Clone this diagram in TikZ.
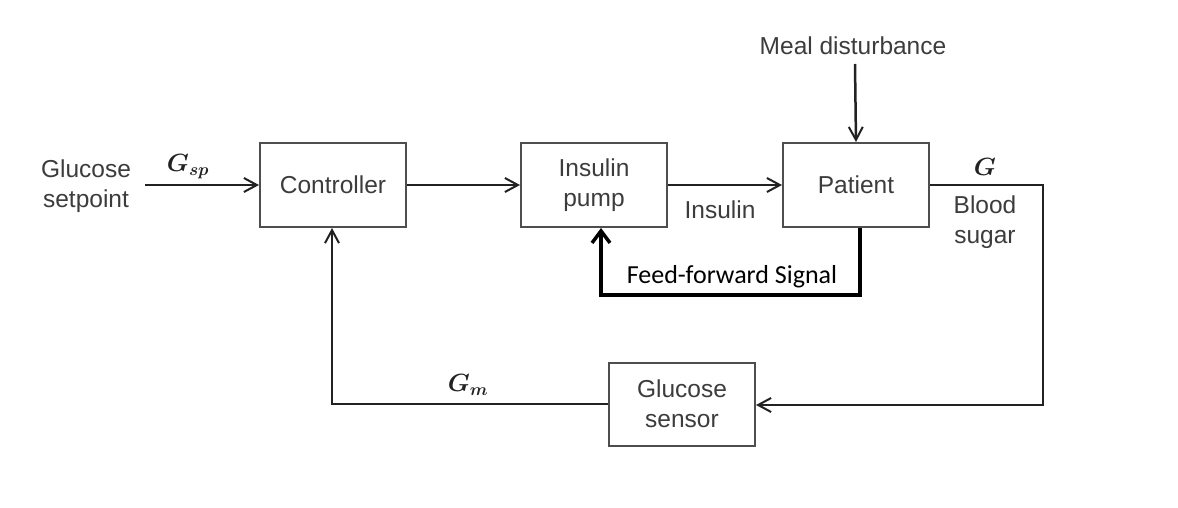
\documentclass[tikz,border=0pt]{standalone}
\usepackage{fontspec}
\setmainfont{Liberation Sans}
\newfontfamily\calfont{Carlito}
\usetikzlibrary{arrows.meta}
\definecolor{txt}{HTML}{3C3C3C}
\definecolor{ln}{HTML}{222222}
\begin{document}
\begin{tikzpicture}[x=1pt,y=-1pt,
  blk/.style={draw=ln!80, line width=2pt, minimum width=146pt, minimum height=84pt, inner sep=0pt, align=center, font=\fontsize{24.5}{30}\selectfont, text=txt},
  lbl/.style={align=center, font=\fontsize{24.5}{30}\selectfont, text=txt, inner sep=0pt},
  mlbl/.style={text=ln, inner sep=0pt, font=\fontsize{25}{30}\selectfont\boldmath},
  conn/.style={draw=ln, line width=2.5pt, -{Straight Barb[length=13pt,width=14pt,line width=2pt]}},
  ff/.style={draw=black, line width=4pt, -{Straight Barb[length=12pt,width=18pt,line width=3.5pt]}}]
\useasboundingbox (0,0) rectangle (1178,508);
\node[blk] (ctrl) at (333,185) {Controller};
\node[blk] (pump) at (594,185) {Insulin\\pump};
\node[blk] (pat) at (856,185) {Patient};
\node[blk, minimum height=83pt] (sens) at (682,404) {Glucose\\sensor};
\node[lbl] (gsp) at (86,186) {Glucose\\setpoint};
\coordinate (in) at (145,185);
\node[mlbl] (gsplbl) at (188,167) {$G_{sp}$};
\node[lbl] (inslbl) at (720,210) {Insulin};
\node[lbl] (meal) at (853,46) {Meal disturbance};
\coordinate (mealtop) at (855,64);
\node[mlbl] (glbl) at (985,167) {$G$};
\node[lbl] (bs) at (985,222) {Blood\\sugar};
\node[mlbl] (gmlbl) at (468,385) {$G_m$};
\node[inner sep=0pt, font=\calfont\fontsize{26}{30}\selectfont] (fflbl) at (732,277) {Feed-forward Signal};
\coordinate (c1) at (1043,185);
\coordinate (c2) at (1043,405);
\coordinate (c3) at (332,404);
\coordinate (f1) at (860,295);
\coordinate (f2) at (601,295);
\draw[conn] (in) -- (ctrl.west);
\draw[conn] (ctrl.east) -- (pump.west);
\draw[conn] (pump.east) -- (pat.west);
\draw[conn] (mealtop) -- (pat.north);
\draw[conn] (pat.east) -- (c1) -- (c2) -- (sens.east |- c2);
\draw[conn] (sens.west |- c3) -- (c3) -- (ctrl.south -| c3);
\draw[ff] (pat.south -| f1) -- (f1) -- (f2) -- (pump.south -| f2);
\end{tikzpicture}
\end{document}
